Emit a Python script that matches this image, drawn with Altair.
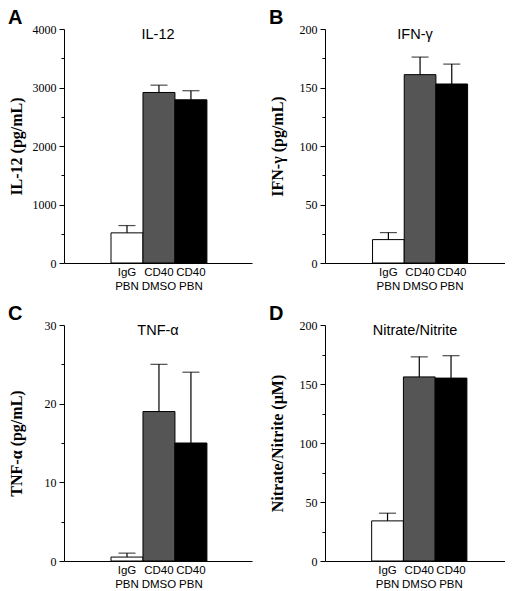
import altair as alt
import pandas as pd

categories = ["IgG PBN", "CD40 DMSO", "CD40 PBN"]
fills = ["#ffffff", "#555555", "#000000"]

il12_vals = [515, 2915, 2790]
il12_upper = [640, 3040, 2945]
ifn_vals = [20, 161, 153]
ifn_upper = [26, 176, 170]
tnf_vals = [0.5, 19, 15]
tnf_upper = [1.0, 25, 24]
no_vals = [34, 156, 155]
no_upper = [40.5, 173, 174]

SERIF = "Liberation Serif"
SANS = "Liberation Sans"


def panel(letter, name, ytitle, vals, upper, ymax, major, minor, width, height, xdom):
    idx = list(range(len(categories)))
    df = pd.DataFrame({
        "cat": categories,
        "x0": idx,
        "x1": [i + 1 for i in idx],
        "mid": [i + 0.5 for i in idx],
        "value": vals,
        "upper": upper,
    })
    major_ticks = list(range(0, ymax + 1, major))
    minor_ticks = [v for v in range(0, ymax + 1, minor) if v % major != 0]
    xscale = alt.Scale(domain=xdom, nice=False, zero=False)
    xaxis = alt.Axis(
        title=None, labels=False, ticks=False, grid=False, domain=True,
        domainColor="black", domainWidth=1,
    )
    yscale = alt.Scale(domain=[0, ymax], nice=False)
    yaxis = alt.Axis(
        title=ytitle, values=major_ticks, format="d", grid=False, orient="left",
        tickSize=5, tickColor="black", domainColor="black", domainWidth=1, tickWidth=1,
        labelFont=SERIF, labelFontSize=12, labelColor="black", labelPadding=3,
        titleFont=SERIF, titleFontSize=16, titleFontWeight="bold", titleColor="black",
        titlePadding=10, minExtent=30, maxExtent=30,
    )
    yaxis_minor = alt.Axis(
        title=None, values=minor_ticks, grid=False, orient="left", labels=False,
        domain=False, tickSize=3, tickColor="black", tickWidth=1, minExtent=0, maxExtent=3,
    )
    base = alt.Chart(df)
    bars = base.mark_rect(stroke="black", strokeWidth=1).encode(
        x=alt.X("x0:Q", scale=xscale, axis=xaxis),
        x2="x1:Q",
        y=alt.Y("value:Q", scale=yscale, axis=yaxis),
        y2=alt.datum(0),
        color=alt.Color("cat:N", scale=alt.Scale(domain=categories, range=fills), legend=None),
    )
    rule = base.mark_rule(color="black", strokeWidth=1.2).encode(
        x=alt.X("mid:Q", scale=xscale),
        y=alt.Y("value:Q", scale=yscale, axis=yaxis_minor),
        y2="upper:Q",
    )
    cap = base.mark_tick(color="black", thickness=1.2, size=17, orient="horizontal").encode(
        x=alt.X("mid:Q", scale=xscale), y=alt.Y("upper:Q", scale=yscale, axis=None)
    )
    xlabels = base.mark_text(
        font=SANS, fontSize=11.5, color="black", baseline="top", align="center",
        lineBreak=" ", lineHeight=13.5,
    ).encode(x=alt.X("mid:Q", scale=xscale), y=alt.value(height + 4), text="cat:N")
    label = alt.Chart(pd.DataFrame({"t": [name]})).mark_text(
        font=SANS, fontSize=14.5, color="black", baseline="alphabetic", align="center"
    ).encode(text="t:N", x=alt.value(width / 2), y=alt.value(10))
    return alt.layer(bars, rule, cap, xlabels, label).resolve_axis(y="independent").properties(
        width=width, height=height,
        title=alt.TitleParams(letter, anchor="start", frame="bounds", font=SANS,
                              fontSize=20, fontWeight="bold", color="black", offset=-5),
    )


A = panel("A", "IL-12", "IL-12 (pg/mL)", il12_vals, il12_upper, 4000, 1000, 500, 188, 234, [-1.47, 4.41])
B = panel("B", "IFN-γ", "IFN-γ (pg/mL)", ifn_vals, ifn_upper, 200, 50, 25, 180, 234, [-1.5, 4.18])
C = panel("C", "TNF-α", "TNF-α (pg/mL)", tnf_vals, tnf_upper, 30, 10, 5, 188, 236, [-1.47, 4.41])
D = panel("D", "Nitrate/Nitrite", "Nitrate/Nitrite (µM)", no_vals, no_upper, 200, 50, 25, 180, 236, [-1.47, 4.2])

chart = alt.concat(A, B, C, D, columns=2, spacing={"row": 12, "column": 17}).properties(
    padding=0, background="white"
).configure_view(strokeWidth=0)

chart.save("out.html", embed_options={"renderer": "svg", "actions": False})
